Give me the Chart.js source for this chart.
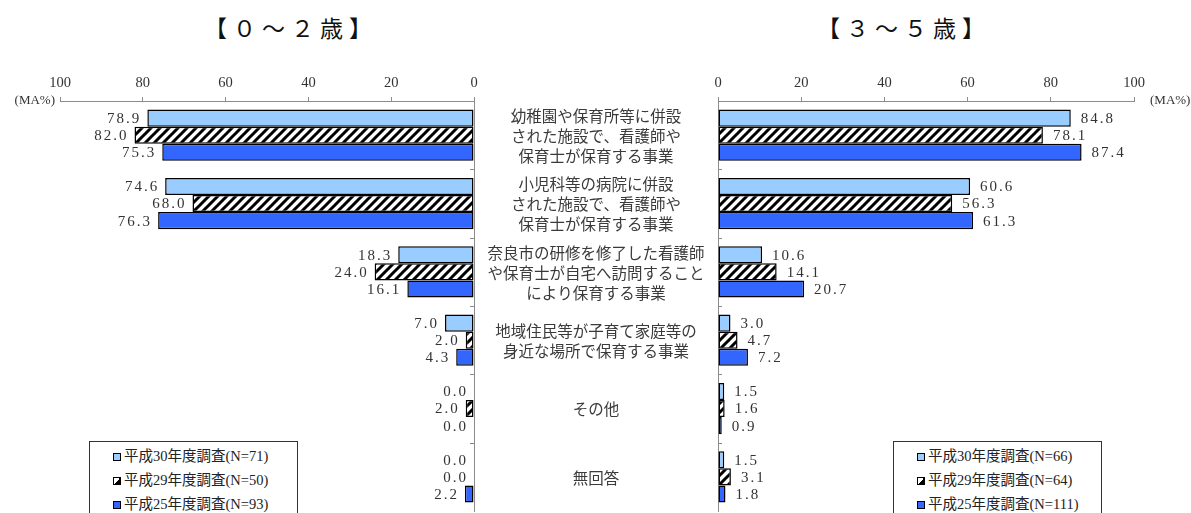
<!DOCTYPE html>
<html lang="ja">
<head>
<meta charset="utf-8">
<script src="https://cdn.jsdelivr.net/npm/chart.js@4.4.0/dist/chart.umd.min.js"></script>
<style>
  html, body { margin: 0; padding: 0; background: #fff; }
  #wrap { position: relative; width: 1191px; height: 513px; overflow: hidden; }
  .title {
    position: absolute; top: 10px; width: 260px; text-align: center;
    font-family: 'Noto Sans CJK JP', sans-serif; font-size: 23px;
    letter-spacing: 6px; color: #111;
  }
  .legend {
    position: absolute; top: 441px; width: 209px; height: 90px;
    border: 1px solid #333; background: #fff; box-sizing: border-box;
    padding-top: 2px;
    font-family: 'Liberation Serif', 'Noto Sans CJK JP', serif; font-size: 14.5px; color: #222;
  }
  .legend div { height: 24px; line-height: 24px; padding-left: 23px; white-space: nowrap; }
  .legend i {
    display: inline-block; width: 6px; height: 6px; border: 1.5px solid #000;
    margin-right: 3px; vertical-align: 0px;
  }
  canvas { position: absolute; top: 0; }
</style>
</head>
<body>
<div id="wrap">
  <div class="title" style="left:161px">【０～２歳】</div>
  <div class="title" style="left:774px">【３～５歳】</div>
  <canvas id="chart02" style="left:0"></canvas>
  <canvas id="chart35" style="left:700px"></canvas>
  <div class="legend" id="legend02" style="left:89px"></div>
  <div class="legend" id="legend35" style="left:893px"></div>
</div>
<script>
// ── DATA ────────────────────────────────────────────────────────────────
const categories = [
    ['幼稚園や保育所等に併設', 'された施設で、看護師や', '保育士が保育する事業'],
    ['小児科等の病院に併設', 'された施設で、看護師や', '保育士が保育する事業'],
    ['奈良市の研修を修了した看護師', 'や保育士が自宅へ訪問すること', 'により保育する事業'],
    ['地域住民等が子育て家庭等の', '身近な場所で保育する事業'],
    ['その他'],
    ['無回答']
];
const series02 = ['平成30年度調査(N=71)', '平成29年度調査(N=50)', '平成25年度調査(N=93)'];
const series35 = ['平成30年度調査(N=66)', '平成29年度調査(N=64)', '平成25年度調査(N=111)'];

const h30_02 = [78.9, 74.6, 18.3, 7.0, 0.0, 0.0];
const h29_02 = [82.0, 68.0, 24.0, 2.0, 2.0, 0.0];
const h25_02 = [75.3, 76.3, 16.1, 4.3, 0.0, 2.2];

const h30_35 = [84.8, 60.6, 10.6, 3.0, 1.5, 1.5];
const h29_35 = [78.1, 56.3, 14.1, 4.7, 1.6, 3.1];
const h25_35 = [87.4, 61.3, 20.7, 7.2, 0.9, 1.8];

const xTicks = [0, 20, 40, 60, 80, 100];
const unitLabel = '(MA%)';

// ── STYLE ───────────────────────────────────────────────────────────────
const LIGHT_BLUE = '#99CCFF';
const BLUE = '#3366FF';
const AXIS_GRAY = '#8c8c8c';
const NUM_FONT = '"Liberation Serif", serif';

function makeHatch() {
    const c = document.createElement('canvas');
    c.width = 9; c.height = 9;
    const g = c.getContext('2d');
    g.fillStyle = '#fff';
    g.fillRect(0, 0, 9, 9);
    g.strokeStyle = '#000';
    g.lineWidth = 3;
    g.beginPath();
    g.moveTo(0, 9); g.lineTo(9, 0);
    g.moveTo(-1, 1); g.lineTo(1, -1);
    g.moveTo(8, 10); g.lineTo(10, 8);
    g.stroke();
    return g.createPattern(c, 'repeat');
}
const hatch = makeHatch();

// ── PLUGINS ─────────────────────────────────────────────────────────────
// value labels at the bar ends
const valueLabels = {
    id: 'valueLabels',
    afterDatasetsDraw(chart, args, opts) {
        const ctx = chart.ctx;
        ctx.save();
        ctx.font = '15px ' + NUM_FONT;
        ctx.fillStyle = '#333';
        ctx.textBaseline = 'middle';
        ctx.letterSpacing = '2px';
        chart.data.datasets.forEach((ds, i) => {
            chart.getDatasetMeta(i).data.forEach((bar, j) => {
                const text = ds.data[j].toFixed(1);
                if (opts.side === 'left') {
                    ctx.textAlign = 'right';
                    ctx.fillText(text, bar.x - 6, bar.y + 1);
                } else {
                    ctx.textAlign = 'left';
                    ctx.fillText(text, bar.x + 10, bar.y + 1);
                }
            });
        });
        ctx.restore();
    }
};

// category text, unit label and small inward ticks on the value axis
const axisExtras = {
    id: 'axisExtras',
    afterDraw(chart, args, opts) {
        const ctx = chart.ctx;
        const area = chart.chartArea;
        const y = chart.scales.y;
        ctx.save();

        // tick marks between categories
        ctx.strokeStyle = AXIS_GRAY;
        ctx.lineWidth = 1;
        ctx.beginPath();
        for (let j = 1; j < categories.length; j++) {
            const py = Math.round(y.getPixelForValue(j - 0.5)) + 0.5;
            if (opts.side === 'left') { ctx.moveTo(area.right - 4, py); ctx.lineTo(area.right, py); }
            else { ctx.moveTo(area.left, py); ctx.lineTo(area.left + 4, py); }
        }
        ctx.stroke();

        // unit label
        ctx.font = '13px ' + NUM_FONT;
        ctx.fillStyle = '#333';
        ctx.textBaseline = 'middle';
        if (opts.side === 'left') {
            ctx.textAlign = 'right';
            ctx.fillText(unitLabel, area.left - 5, area.top);
        } else {
            ctx.textAlign = 'left';
            ctx.fillText(unitLabel, area.right + 16, area.top);
        }

        // category labels in the middle band
        if (opts.side === 'left') {
            const cx = (area.right + chart.width) / 2;
            ctx.font = '15.5px "Noto Sans CJK JP", sans-serif';
            ctx.fillStyle = '#3a3a3a';
            ctx.textAlign = 'center';
            categories.forEach((lines, j) => {
                const cy = y.getPixelForValue(j);
                lines.forEach((line, k) => {
                    ctx.fillText(line, cx, cy + (k - (lines.length - 1) / 2) * 20 + 1);
                });
            });
        }
        ctx.restore();
    }
};

// ── CHART BUILDER ───────────────────────────────────────────────────────
function buildChart(id, side, width, labels, a, b, c) {
    const canvas = document.getElementById(id);
    canvas.width = width;
    canvas.height = 513;
    canvas.style.width = width + 'px';
    canvas.style.height = '513px';

    const barStyle = { borderColor: '#000', borderWidth: 1.5, borderSkipped: false,
                       categoryPercentage: 0.75, barPercentage: 1.0 };

    return new Chart(canvas.getContext('2d'), {
        type: 'bar',
        data: {
            labels: categories.map(l => l.join('')),
            datasets: [
                { label: labels[0], data: a, backgroundColor: LIGHT_BLUE, ...barStyle },
                { label: labels[1], data: b, backgroundColor: hatch, ...barStyle },
                { label: labels[2], data: c, backgroundColor: BLUE, ...barStyle }
            ]
        },
        options: {
            indexAxis: 'y',
            responsive: false,
            animation: false,
            layout: {
                padding: side === 'left'
                    ? { left: 60, right: 0, top: 0, bottom: 2 }
                    : { left: 18, right: 57, top: 0, bottom: 2 }
            },
            plugins: {
                legend: { display: false },
                tooltip: { enabled: false },
                valueLabels: { side },
                axisExtras: { side }
            },
            scales: {
                x: {
                    position: 'top',
                    reverse: side === 'left',
                    min: 0, max: 100,
                    afterBuildTicks: axis => { axis.ticks = xTicks.map(v => ({ value: v })); },
                    afterFit: axis => { axis.height = 101; },
                    grid: { drawOnChartArea: false, drawTicks: true, tickLength: 4, color: AXIS_GRAY },
                    border: { display: true, color: AXIS_GRAY, width: 1 },
                    ticks: { padding: 5, color: '#333', font: { family: NUM_FONT, size: 14.5 }, maxRotation: 0 }
                },
                y: {
                    position: side === 'left' ? 'right' : 'left',
                    afterFit: axis => { axis.width = side === 'left' ? 244 : 0; },
                    grid: { display: false },
                    border: { display: true, color: AXIS_GRAY, width: 1 },
                    ticks: { display: false }
                }
            }
        },
        plugins: [valueLabels, axisExtras]
    });
}

buildChart('chart02', 'left', 718, series02, h30_02, h29_02, h25_02);
buildChart('chart35', 'right', 491, series35, h30_35, h29_35, h25_35);

// ── LEGENDS ─────────────────────────────────────────────────────────────
function buildLegend(id, labels) {
    const icons = [
        'background:' + LIGHT_BLUE,
        'background:linear-gradient(135deg,#fff 50%,#000 50%)',
        'background:' + BLUE
    ];
    document.getElementById(id).innerHTML = labels
        .map((t, i) => '<div><i style="' + icons[i] + '"></i>' + t + '</div>')
        .join('');
}
buildLegend('legend02', series02);
buildLegend('legend35', series35);
</script>
</body>
</html>
